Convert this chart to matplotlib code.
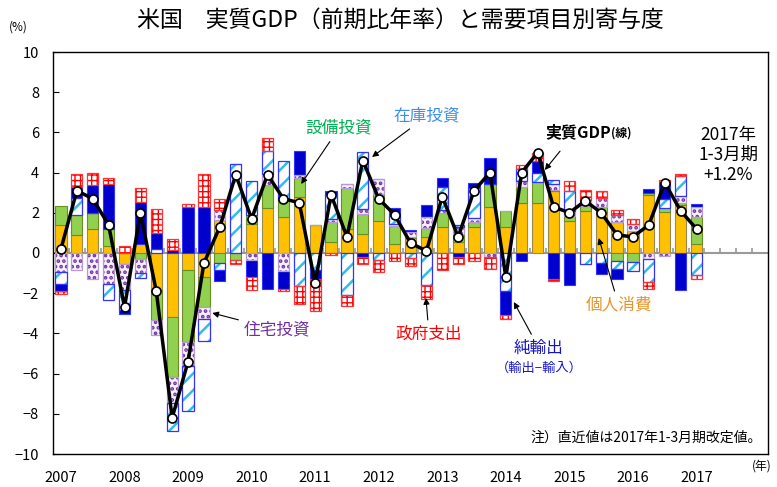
import numpy as np
import matplotlib.pyplot as plt

plt.rcParams['font.family'] = ['Noto Sans CJK JP', 'DejaVu Sans']

# 2007Q1 - 2017Q1 (前期比年率, 寄与度 %)
years = ['2007', '2008', '2009', '2010', '2011', '2012',
         '2013', '2014', '2015', '2016', '2017']
gdp = [0.2, 3.1, 2.7, 1.4, -2.7, 2.0, -1.9, -8.2, -5.4, -0.5, 1.3, 3.9,
       1.7, 3.9, 2.7, 2.5, -1.5, 2.9, 0.8, 4.6, 2.7, 1.9, 0.5, 0.1,
       2.8, 0.8, 3.1, 4.0, -1.2, 4.0, 5.0, 2.3, 2.0, 2.6, 2.0, 0.9,
       0.8, 1.4, 3.5, 2.1, 1.2]
pce = [1.40, 0.90, 1.19, 0.33, -0.54, 0.45, -1.86, -3.16, -0.86, -1.19, 1.63, 0.0,
       1.44, 2.23, 1.77, 2.77, 1.39, 0.53, 1.19, 0.94, 1.60, 0.45, 0.75, 0.78,
       1.27, 0.53, 1.27, 2.29, 1.27, 2.50, 2.50, 3.10, 1.60, 2.10, 2.00, 1.53,
       1.11, 2.87, 2.06, 2.39, 0.45]
inv = [0.93, 1.00, 0.81, 0.86, 0.0, -0.30, -1.49, -3.00, -3.58, -1.48, -0.51, -0.35,
       0.46, 1.16, 0.88, 0.96, 0.0, 1.00, 2.06, 1.00, 1.32, 0.87, 0.05, 0.45,
       0.74, 0.41, 0.25, 1.12, 0.83, 0.80, 1.05, 0.05, 0.25, 0.25, 0.30, -0.38,
       -0.43, 0.13, 0.20, 0.12, 1.32]
res = [-0.96, -0.84, -1.29, -1.53, -1.32, -0.69, -0.74, -1.32, -1.16, -0.63, 0.51, 0.0,
       -0.33, 0.56, -0.91, 0.17, 0.0, 0.17, 0.17, 0.25, 0.74, 0.10, 0.25, 0.54,
       0.15, 0.33, 0.21, -0.21, 0.0, 0.30, 0.0, 0.30, 0.25, 0.30, 0.45, 0.38,
       0.33, -0.30, -0.17, 0.33, 0.50]
stk = [-0.60, 0.86, 0.0, -0.79, -0.99, -0.25, 0.20, -1.40, -2.28, -1.10, -0.36, 4.44,
       1.68, 1.12, 1.94, -1.63, -0.87, 1.24, -2.11, 2.84, -0.35, 0.43, -0.25, -1.57,
       1.10, 0.10, 1.50, 0.0, -1.91, 0.60, 0.45, 0.20, 1.00, -0.55, -0.50, -0.41,
       -0.45, -1.16, 0.41, 0.99, -1.07]
nx = [-0.33, 0.50, 1.39, 2.23, -0.20, 2.11, 0.79, 0.15, 2.31, 2.31, -0.50, 0.0,
      -0.87, -1.80, -0.88, 1.19, -0.41, 0.13, 0.0, -0.21, 0.0, 0.41, 0.10, 0.63,
      0.45, -0.21, 0.25, 1.32, -1.19, -0.40, 0.60, -1.30, -1.60, 0.0, -0.55, -0.50,
      0.0, 0.20, 0.87, -1.83, 0.17]
gov = [-0.17, 0.66, 0.58, 0.33, 0.33, 0.66, 1.19, 0.53, 0.15, 1.60, 0.53, -0.20,
       -0.63, 0.63, -0.08, -0.91, -1.60, -0.10, -0.54, -0.33, -0.60, -0.40, -0.40, -0.71,
       -0.87, -0.36, -0.38, -0.58, -0.17, 0.20, 0.40, -0.08, 0.50, 0.50, 0.35, 0.25,
       0.25, -0.33, 0.10, 0.08, -0.21]

n = len(gdp)
x = np.arange(n)
w = 0.7

fig = plt.figure(figsize=(7.77, 4.87), dpi=100)
ax = fig.add_axes([53 / 777, 33 / 487, 715 / 777, 402 / 487])

# 積み上げ順: 個人消費, 設備投資, 住宅投資, 在庫投資, 純輸出, 政府支出
series = [
    (pce, dict(color='#FFC000', edgecolor='#9A8A50', linewidth=0.8)),
    (inv, dict(color='#92D050', edgecolor='#6B8E23', linewidth=0.8)),
    (res, dict(hatch=('#F6F0FA', '#7030A0', '...', '#B99AD6', 1.8))),
    (stk, dict(hatch=('white', '#33BBEE', '//', '#3333FF', 1.8))),
    (nx, dict(color='#0000CC', edgecolor='#3333FF', linewidth=0.8)),
    (gov, dict(hatch=('white', '#FF0000', '+++', '#FF3333', 1.0))),
]

pos = np.zeros(n)
neg = np.zeros(n)
for vals, st in series:
    v = np.array(vals)
    bottom = np.where(v >= 0, pos, neg)
    if 'hatch' in st:
        fc, hc, hp, ec, hlw = st['hatch']
        with plt.rc_context({'hatch.linewidth': hlw}):
            ax.bar(x, v, w, bottom=bottom, color=fc, edgecolor=hc, hatch=hp, linewidth=0, zorder=2)
        ax.bar(x, v, w, bottom=bottom, fill=False, edgecolor=ec, linewidth=0.9, zorder=3)
    else:
        ax.bar(x, v, w, bottom=bottom, zorder=2, **st)
    pos = pos + np.where(v > 0, v, 0)
    neg = neg + np.where(v < 0, v, 0)

# ゼロ線と区切り目盛
ax.axhline(0, color='#999999', linewidth=1.5, zorder=1)
ax.vlines(np.arange(44) + 0.5, 0, 0.25, color='#999999', linewidth=1.2, zorder=1)

ax.plot(x, gdp, color='black', linewidth=2.5, marker='o', markersize=6.5,
        markerfacecolor='white', markeredgecolor='black', markeredgewidth=1.2, zorder=5)

ax.set_xlim(-0.5, 44.5)
ax.set_ylim(-10, 10)
ax.set_yticks(np.arange(-10, 11, 2))
ax.tick_params(axis='y', direction='in', length=4, labelsize=10.5, pad=10)
ax.set_xticks(np.arange(0, n, 4))
ax.set_xticklabels(years)
ax.tick_params(axis='x', length=0, labelsize=10.5, pad=12)
for s in ax.spines.values():
    s.set_linewidth(1.0)

fig.text(400 / 777, 1 - 20 / 487, '米国　実質GDP（前期比年率）と需要項目別寄与度',
         ha='center', va='center', fontsize=16.5)
fig.text(18 / 777, 1 - 27 / 487, '(%)', ha='center', va='center', fontsize=8.5)
fig.text(762 / 777, 1 - 466 / 487, '(年)', ha='center', va='center', fontsize=8.5)

arrow = dict(arrowstyle='-|>', color='black', lw=0.8, mutation_scale=9, shrinkA=2, shrinkB=0)

def px(xp, yp):
    return ((xp - 61.5) / 15.91, (253 - yp) / 20.1)

ax.annotate('設備投資', xy=px(302, 184), xytext=px(340, 128), color='#00B050', fontsize=12,
            ha='center', va='center', arrowprops=arrow, zorder=6)
ax.annotate('在庫投資', xy=px(373, 157), xytext=px(428, 116), color='#3F8FEA', fontsize=12,
            ha='center', va='center', arrowprops=arrow, zorder=6)
ax.annotate('住宅投資', xy=px(213, 313), xytext=px(278, 330), color='#7030A0', fontsize=12,
            ha='center', va='center', arrowprops=arrow, zorder=6)
ax.annotate('政府支出', xy=px(427, 298), xytext=px(430, 334), color='#FF0000', fontsize=12,
            ha='center', va='center', arrowprops=arrow, zorder=6)
ax.annotate('純輸出', xy=px(515, 302), xytext=px(540, 348), color='#1515C8', fontsize=12,
            ha='center', va='center', arrowprops=arrow, zorder=6)
ax.text(*px(540, 368), '（輸出−輸入）', color='#1515C8', fontsize=9.5, ha='center', va='center')
ax.annotate('個人消費', xy=px(600, 238), xytext=px(620, 305), color='#E8952E', fontsize=12,
            ha='center', va='center', arrowprops=arrow, zorder=6)
ax.annotate('', xy=px(546, 170), xytext=px(563, 149), arrowprops=arrow, zorder=6)
ax.text(*px(612, 132), '実質GDP', fontsize=11.5, fontweight='bold', ha='right', va='center')
ax.text(*px(612, 133), '(線)', fontsize=8.5, fontweight='bold', ha='left', va='center')
ax.text(*px(730, 155), '2017年\n1-3月期\n+1.2%', fontsize=12.5, ha='center', va='center',
        linespacing=1.15)
ax.text(0.992, 0.04, '注）直近値は2017年1-3月期改定値。', transform=ax.transAxes,
        fontsize=10, ha='right', va='center')

fig.savefig('out.png', dpi=100)
